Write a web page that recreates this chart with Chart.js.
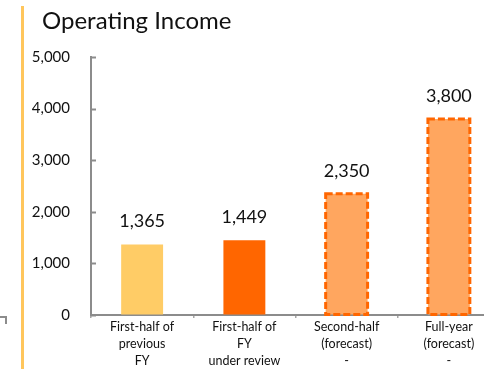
<!DOCTYPE html>
<html>
<head>
<meta charset="utf-8">
<script src="https://cdn.jsdelivr.net/npm/chart.js@4.4.1/dist/chart.umd.min.js"></script>
<style>
  html, body { margin: 0; padding: 0; background: #fff; overflow: hidden; }
  body { width: 484px; height: 369px; position: relative; }
  #wrap { position: absolute; left: 0; top: 0; width: 510px; height: 369px; }
  #title {
    position: absolute; left: 42px; top: 5px;
    font-family: Lato, sans-serif; font-size: 24px; color: #111;
    white-space: nowrap;
  }
  .accent { position: absolute; left: 21px; top: 6px; width: 3px; height: 363px; background: #ffc65c; }
  .stub { position: absolute; left: -2px; top: 316px; width: 7px; height: 6px;
          border-top: 2px solid #8c8c8c; border-right: 2px solid #8c8c8c; }
</style>
</head>
<body>
<div class="accent"></div>
<div class="stub"></div>
<div id="wrap"><canvas id="income" width="510" height="369"></canvas></div>
<div id="title">Operating Income</div>
<script>
// Operating income by period (millions)
const categories = [
  ['First-half of', 'previous', 'FY'],
  ['First-half of', 'FY', 'under review'],
  ['Second-half', '(forecast)', '-'],
  ['Full-year', '(forecast)', '-']
];
const incomeValues = [1365, 1449, 2350, 3800];
const yTicks = [0, 1000, 2000, 3000, 4000, 5000];

const barFills = ['#ffcc66', '#ff6600', '#ffa65f', '#ffa65f'];
const isForecast = [false, false, true, true];

const fmt = v => v.toLocaleString('en-US');

// value labels above each bar
const valueLabels = {
  id: 'valueLabels',
  afterDatasetsDraw(chart) {
    const ctx = chart.ctx;
    const meta = chart.getDatasetMeta(0);
    ctx.save();
    ctx.font = '18px Lato, sans-serif';
    ctx.fillStyle = '#111';
    ctx.textAlign = 'center';
    ctx.textBaseline = 'middle';
    meta.data.forEach((bar, i) => {
      ctx.fillText(fmt(incomeValues[i]), bar.x, bar.y - 23);
    });
    ctx.restore();
  }
};

// dashed outline for the forecast bars
const dashedOutline = {
  id: 'dashedOutline',
  afterDatasetsDraw(chart) {
    const ctx = chart.ctx;
    const meta = chart.getDatasetMeta(0);
    ctx.save();
    ctx.strokeStyle = '#ff6600';
    ctx.lineWidth = 3;
    ctx.setLineDash([7, 3]);
    meta.data.forEach((bar, i) => {
      if (!isForecast[i]) return;
      const { x, y, width, base } = bar.getProps(['x', 'y', 'width', 'base'], true);
      ctx.strokeRect(x - width / 2, y, width, base - y);
    });
    ctx.restore();
  }
};

// short y ticks pointing into the plot
const innerTicks = {
  id: 'innerTicks',
  afterDraw(chart) {
    const ctx = chart.ctx;
    const y = chart.scales.y;
    ctx.save();
    ctx.strokeStyle = '#8c8c8c';
    ctx.lineWidth = 2;
    yTicks.forEach(v => {
      const py = Math.round(y.getPixelForValue(v)) + 0.5;
      ctx.beginPath();
      ctx.moveTo(y.right, py);
      ctx.lineTo(y.right + 5, py);
      ctx.stroke();
    });
    ctx.restore();
  }
};

new Chart(document.getElementById('income'), {
  type: 'bar',
  data: {
    labels: categories,
    datasets: [{
      data: incomeValues,
      backgroundColor: barFills,
      borderWidth: 0,
      barPercentage: 0.41,
      categoryPercentage: 1
    }]
  },
  options: {
    responsive: false,
    animation: false,
    devicePixelRatio: 1,
    layout: { padding: { top: 57, right: 10, left: 0, bottom: 0 } },
    plugins: {
      legend: { display: false },
      tooltip: { enabled: false }
    },
    scales: {
      x: {
        z: 1,
        afterFit(scale) { scale.height = 54; },
        border: { color: '#8c8c8c', width: 2 },
        grid: { drawOnChartArea: false, tickLength: 3, color: '#a6a6a6', lineWidth: 1.5 },
        ticks: {
          color: '#111',
          padding: 0,
          maxRotation: 0,
          font: { family: 'Lato', size: 12.5, lineHeight: 1.38 }
        }
      },
      y: {
        z: 1,
        min: 0,
        max: 5000,
        afterFit(scale) { scale.width = 91; },
        afterBuildTicks(scale) { scale.ticks = yTicks.map(v => ({ value: v })); },
        border: { color: '#8c8c8c', width: 2 },
        grid: { drawOnChartArea: false, drawTicks: false },
        ticks: {
          color: '#111',
          padding: 21,
          font: { family: 'Lato', size: 15 },
          callback: v => fmt(v)
        }
      }
    }
  },
  plugins: [valueLabels, dashedOutline, innerTicks]
});
</script>
</body>
</html>
